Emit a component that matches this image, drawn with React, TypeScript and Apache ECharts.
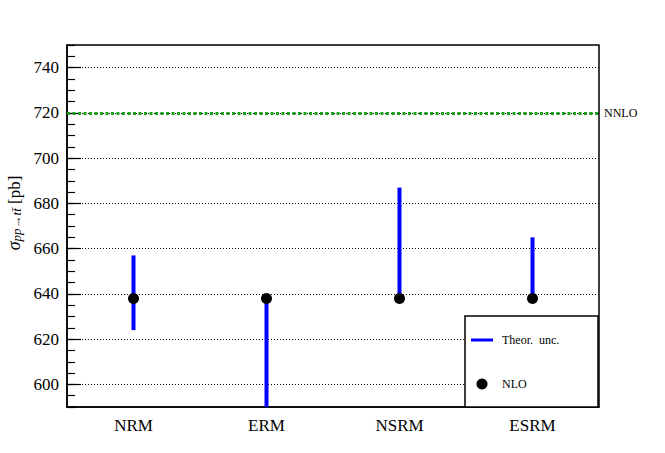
import React, { useEffect, useRef } from "react";
import * as echarts from "echarts";

const categories = ["NRM", "ERM", "NSRM", "ESRM"];
const nloValues = [638, 638, 638, 638];
const uncLow = [624, 590, 638, 638];
const uncHigh = [657, 638, 687, 665];
const nnloValue = 720;
const yTickValues = [600, 620, 640, 660, 680, 700, 720, 740];
const yMin = 590;
const yMax = 750;

const FONT = "Liberation Serif";

export default function App() {
  const ref = useRef<HTMLDivElement>(null);
  useEffect(() => {
    if (!ref.current) return;
    const chart = echarts.init(ref.current, undefined, { renderer: "svg" });
    const errData = categories.map((_, i) => [i, uncLow[i], uncHigh[i]]);
    const nloData = categories.map((_, i) => [i, nloValues[i]]);
    chart.setOption({
      animation: false,
      backgroundColor: "#fff",
      textStyle: { fontFamily: FONT },
      grid: {
        left: 67,
        right: 66,
        top: 45,
        bottom: 46,
        containLabel: false,
        outerBoundsMode: "none",
        show: true,
        borderColor: "#000",
        borderWidth: 1.5,
        backgroundColor: "transparent",
      },
      xAxis: {
        type: "category",
        data: categories,
        boundaryGap: true,
        axisLine: { lineStyle: { color: "#000", width: 1.5 } },
        axisTick: {
          alignWithLabel: true,
          inside: true,
          length: 11,
          lineStyle: { color: "#000", width: 1 },
        },
        axisLabel: { color: "#000", fontSize: 17, fontFamily: FONT, margin: 10 },
        splitLine: { show: false },
      },
      yAxis: [
        {
          type: "value",
          min: yMin,
          max: yMax,
          interval: 10,
          position: "left",
          axisLine: { show: true, lineStyle: { color: "#000", width: 1.5 } },
          axisTick: {
            show: true,
            inside: true,
            length: 14,
            customValues: yTickValues,
            lineStyle: { color: "#000", width: 1.2 },
          },
          axisLabel: {
            color: "#000",
            fontSize: 17,
            fontFamily: FONT,
            margin: 8,
            customValues: yTickValues,
          },
          splitLine: {
            show: true,
            lineStyle: { color: "#000", width: 1, type: [1, 2] },
          },
          name: "{s|σ}{sub|pp→tt\u0304}{n| [pb]}",
          nameLocation: "middle",
          nameRotate: 90,
          nameGap: 44,
          nameTextStyle: {
            color: "#000",
            padding: [0, 0, 0, 26],
            rich: {
              s: { fontFamily: FONT, fontStyle: "italic", fontSize: 18, lineHeight: 20, verticalAlign: "bottom", color: "#000" },
              sub: { fontFamily: FONT, fontStyle: "italic", fontSize: 13, lineHeight: 8, verticalAlign: "bottom", color: "#000" },
              n: { fontFamily: FONT, fontSize: 17, lineHeight: 20, verticalAlign: "bottom", color: "#000" },
            },
          },
        },
        {
          type: "value",
          min: yMin,
          max: yMax,
          interval: 5,
          position: "left",
          offset: 0,
          axisLine: { show: false },
          axisTick: {
            show: true,
            inside: true,
            length: 8,
            lineStyle: { color: "#000", width: 1.2 },
          },
          axisLabel: { show: false },
          splitLine: { show: false },
        },
      ],
      series: [
        {
          name: "Theor. unc.",
          type: "custom",
          yAxisIndex: 0,
          data: errData,
          z: 3,
          renderItem: (params: any, api: any) => {
            const x = api.value(0);
            const lo = api.coord([x, api.value(1)]);
            const hi = api.coord([x, api.value(2)]);
            return {
              type: "line",
              shape: { x1: lo[0], y1: lo[1], x2: hi[0], y2: hi[1] },
              style: { stroke: "#0000ff", lineWidth: 4, lineCap: "butt" },
            };
          },
        },
        {
          name: "NLO",
          type: "scatter",
          yAxisIndex: 0,
          data: nloData,
          symbol: "circle",
          symbolSize: 11,
          z: 4,
          itemStyle: { color: "#000", opacity: 1 },
          markLine: {
            silent: true,
            symbol: "none",
            z: 2,
            data: [{ yAxis: nnloValue }],
            lineStyle: { color: "#1aa01a", width: 3, type: [3, 2.5], opacity: 1 },
            label: {
              show: true,
              position: "end",
              formatter: "NNLO",
              color: "#000",
              fontSize: 12,
              fontFamily: FONT,
              distance: 5,
            },
          },
        },
      ],
      graphic: [
        {
          type: "rect",
          z: 100,
          shape: { x: 465, y: 316, width: 133, height: 91 },
          style: { fill: "#fff", stroke: "#000", lineWidth: 1.5 },
        },
        {
          type: "line",
          z: 101,
          shape: { x1: 471, y1: 340, x2: 493, y2: 340 },
          style: { stroke: "#0000ff", lineWidth: 3 },
        },
        {
          type: "text",
          z: 101,
          x: 502,
          y: 340,
          style: { text: "Theor.  unc.", fill: "#000", font: `12px "${FONT}"`, verticalAlign: "middle" },
        },
        {
          type: "circle",
          z: 101,
          shape: { cx: 482, cy: 384, r: 5.5 },
          style: { fill: "#000" },
        },
        {
          type: "text",
          z: 101,
          x: 502,
          y: 384,
          style: { text: "NLO", fill: "#000", font: `12px "${FONT}"`, verticalAlign: "middle" },
        },
      ],
    });
    return () => chart.dispose();
  }, []);
  return (
    <div
      ref={ref}
      style={{ position: "fixed", left: 0, top: 0, width: 665, height: 453 }}
    />
  );
}
